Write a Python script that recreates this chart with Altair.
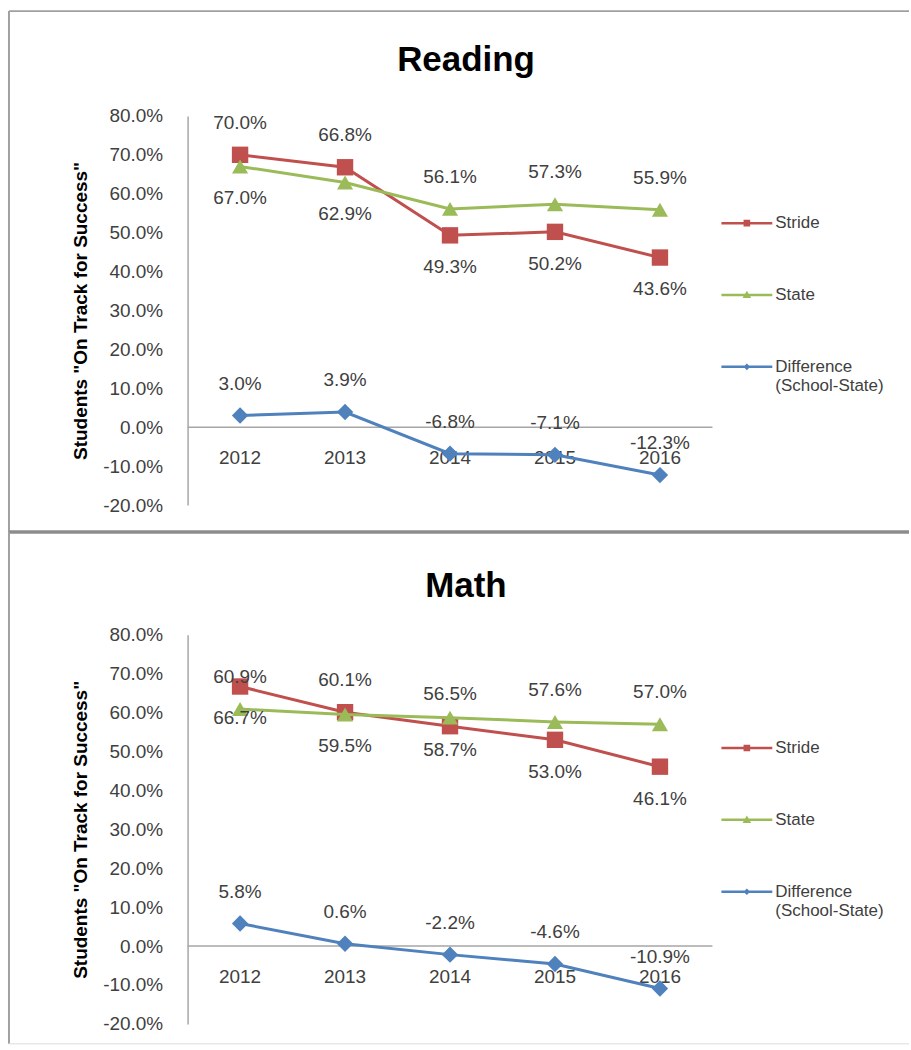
import altair as alt
import pandas as pd

# ---------------- data ----------------
years = ["2012", "2013", "2014", "2015", "2016"]
series_names = ["Stride", "State", "Difference (School-State)"]
y_ticks = [-20, -10, 0, 10, 20, 30, 40, 50, 60, 70, 80]

reading_stride = [70.0, 66.8, 49.3, 50.2, 43.6]
reading_state = [67.0, 62.9, 56.1, 57.3, 55.9]
reading_diff = [3.0, 3.9, -6.8, -7.1, -12.3]
reading_stride_side = ["above", "above", "below", "below", "below"]
reading_state_side = ["below", "below", "above", "above", "above"]

math_stride = [66.7, 60.1, 56.5, 53.0, 46.1]
math_state = [60.9, 59.5, 58.7, 57.6, 57.0]
math_diff = [5.8, 0.6, -2.2, -4.6, -10.9]
math_stride_side = ["below", "above", "above", "below", "below"]
math_state_side = ["above", "below", "below", "above", "above"]

diff_side = ["above"] * 5

# ---------------- styles ----------------
colors = ["#C0504D", "#9BBB59", "#4F81BD"]
shapes = ["square", "triangle-up", "diamond"]
marker_sizes = [270, 260, 270]
legend_paths = [
    "M-1,-0.05H1V0.05H-1Z M-0.13,-0.13H0.13V0.13H-0.13Z",
    "M-1,-0.05H1V0.05H-1Z M0,-0.17L0.17,0.12L-0.17,0.12Z",
    "M-1,-0.05H1V0.05H-1Z M0,-0.13L0.13,0L0,0.13L-0.13,0Z",
]
FONT = "Liberation Sans"
TXT = "#404040"
W, H = 526, 390


def panel_df(stride, state, diff, stride_side, state_side):
    rows = []
    for name, vals, sides in zip(series_names, [stride, state, diff],
                                 [stride_side, state_side, diff_side]):
        for yr, v, s in zip(years, vals, sides):
            rows.append({"year": yr, "series": name, "value": v,
                         "label": f"{v:.1f}%", "side": s})
    return pd.DataFrame(rows)


one = pd.DataFrame({"value": [0]})
zero_years = pd.DataFrame({"year": years, "value": [0] * len(years)})
x_enc = alt.X("year:O", scale=alt.Scale(domain=years, padding=0.5), axis=None)
y_axis = alt.Axis(
    values=y_ticks,
    labelExpr="replace(format(datum.value, '.1f'), '\u2212', '-') + '%'",
    labelOverlap=False,
    grid=False, ticks=False, tickSize=0,
    domainColor="#a6a6a6", domainWidth=1.5,
    labelFont=FONT, labelFontSize=19, labelColor=TXT, labelPadding=25,
    title='Students "On Track for Success"',
    titleFont=FONT, titleFontSize=19, titleFontWeight="bold",
    titleColor="#000000", titlePadding=12,
)
y_enc = alt.Y("value:Q", scale=alt.Scale(domain=[-20, 80], nice=False, zero=False), axis=y_axis)


def make_panel(title, title_dy, legend_y, df, frame):
    base = alt.Chart(df)
    layers = []
    # zero line
    layers.append(
        alt.Chart(one).mark_rule(color="#a6a6a6", strokeWidth=1.5).encode(
            y=y_enc, x=alt.value(0), x2=alt.value("width"))
    )
    # year labels on the zero line
    layers.append(
        alt.Chart(zero_years).mark_text(
            dy=31, font=FONT, fontSize=19, color=TXT, baseline="middle"
        ).encode(x=x_enc, y=y_enc, text="year:N")
    )
    for name, col, shp, sz in zip(series_names, colors, shapes, marker_sizes):
        sub = base.transform_filter(alt.datum.series == name)
        layers.append(sub.mark_line(color=col, strokeWidth=3).encode(x=x_enc, y=y_enc))
        layers.append(sub.mark_point(shape=shp, filled=True, color=col, size=sz,
                                     opacity=1).encode(x=x_enc, y=y_enc))
    for side, dy in [("above", -32), ("below", 32)]:
        layers.append(
            base.transform_filter(alt.datum.side == side).mark_text(
                dy=dy, font=FONT, fontSize=19, color=TXT, baseline="middle"
            ).encode(x=x_enc, y=y_enc, text="label:N")
        )
    # legend (entries come from scale domain only)
    leg = alt.Legend(
        title=None, orient="none", legendX=535, legendY=legend_y,
        labelExpr="split(datum.label, ' ')",
        labelFont=FONT, labelFontSize=17, labelColor=TXT,
        symbolSize=2601, symbolStrokeWidth=0, symbolOpacity=1,
        labelOffset=3, rowPadding=38, padding=0,
    )
    layers.append(
        base.transform_filter("false").mark_point(filled=True, opacity=1).encode(
            color=alt.Color("series:N", scale=alt.Scale(domain=series_names, range=colors), legend=leg),
            shape=alt.Shape("series:N", scale=alt.Scale(domain=series_names, range=legend_paths), legend=leg),
        )
    )
    # panel title
    layers.append(
        alt.Chart(one).mark_text(text=title, font=FONT, fontSize=35, fontWeight="bold",
                                 color="#000000", align="center", baseline="alphabetic"
                                 ).encode(x=alt.value(279), y=alt.value(title_dy))
    )
    # frame lines
    for (x1, x2, y1, y2, c, sw) in frame:
        if y2 is None:
            enc = dict(x=alt.value(x1), x2=alt.value(x2), y=alt.value(y1))
        else:
            enc = dict(x=alt.value(x1), y=alt.value(y1), y2=alt.value(y2))
        layers.append(alt.Chart(one).mark_rule(color=c, strokeWidth=sw).encode(**enc))
    return alt.layer(*layers).properties(width=W, height=H)


reading = make_panel(
    "Reading", -45, 82,
    panel_df(reading_stride, reading_state, reading_diff, reading_stride_side, reading_state_side),
    [(-179, 723, -105, None, "#a0a0a0", 2),
     (-179, None, -105, 417, "#a0a0a0", 2),
     (-179, 723, 417, None, "#8c8c8c", 3.5)],
)
math = make_panel(
    "Math", -38, 88,
    panel_df(math_stride, math_state, math_diff, math_stride_side, math_state_side),
    [(-179, None, -103, 410, "#a0a0a0", 2),
     (-179, 723, 410, None, "#dcdcdc", 1)],
)

chart = alt.vconcat(reading, math, spacing=130, bounds="flush").properties(
    padding={"left": 7, "top": 9, "right": 0, "bottom": 0},
    background="#ffffff",
).configure_view(strokeWidth=0).configure_axis(labelOverlap=False).resolve_scale(
    color="independent", shape="independent")

chart.save("out.html", embed_options={"renderer": "svg", "actions": False})
